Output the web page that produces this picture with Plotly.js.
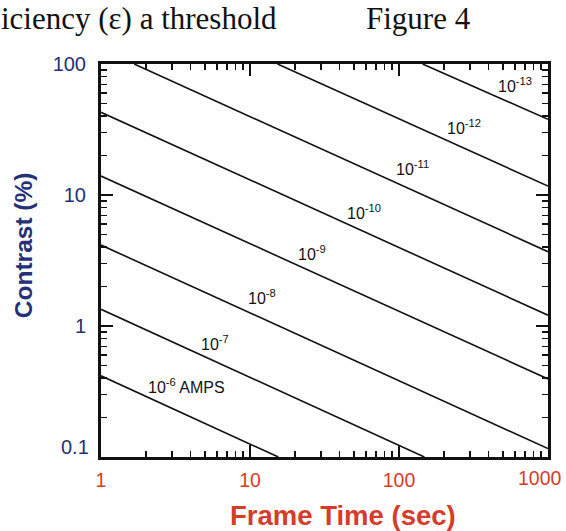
<!DOCTYPE html>
<html>
<head>
<meta charset="utf-8">
<script src="https://cdn.plot.ly/plotly-3.0.1.min.js"></script>
<style>
html,body{margin:0;padding:0;background:#fff;}
#chart{width:566px;height:531px;}
</style>
</head>
<body>
<div id="chart"></div>
<script>
// Threshold current lines (AMPS): straight lines on log-log axes
var currentLabels = ['10<sup>-6</sup> AMPS','10<sup>-7</sup>','10<sup>-8</sup>','10<sup>-9</sup>','10<sup>-10</sup>','10<sup>-11</sup>','10<sup>-12</sup>','10<sup>-13</sup>'];
var startTime     = [1, 1, 1, 1, 1, 1.67, 15.3, 144];
var startContrast = [0.417, 1.34, 4.15, 13.96, 42.8, 100, 100, 100];
var endTime       = [15.5, 148, 1000, 1000, 1000, 1000, 1000, 1000];
var endContrast   = [0.1, 0.1, 0.116, 0.394, 1.21, 3.69, 11.7, 37.8];

// label anchor points (frame time, contrast)
var labelTime     = [3.77, 5.85, 12.1, 26.0, 58.5, 122.7, 274, 596];
var labelContrast = [0.348, 0.738, 1.675, 3.59, 7.46, 16.0, 33.2, 69.2];

var xTicks = [1, 10, 100, 1000];
var xTickText = ['1', '10', '100', '1000'];
var yTicks = [0.1, 1, 10, 100];
var yTickText = ['0.1', '1', '10', '100'];

var minorX = [], minorY = [];
[1, 10, 100].forEach(function (d) { for (var k = 2; k <= 9; k++) minorX.push(d * k); });
[0.1, 1, 10].forEach(function (d) { for (var k = 2; k <= 9; k++) minorY.push(d * k); });

var navy = '#243078';
var red = '#d63c2a';
var sans = 'Liberation Sans, Arial, Helvetica, sans-serif';
var serif = 'Liberation Serif, Times New Roman, serif';

var traces = currentLabels.map(function (lab, i) {
  return {
    x: [startTime[i], endTime[i]],
    y: [startContrast[i], endContrast[i]],
    mode: 'lines',
    type: 'scatter',
    line: {color: '#111', width: 1.6},
    hoverinfo: 'skip',
    showlegend: false
  };
});

var annotations = currentLabels.map(function (lab, i) {
  return {
    x: Math.log10(labelTime[i]), y: Math.log10(labelContrast[i]),
    xref: 'x', yref: 'y', text: lab, showarrow: false,
    font: {family: sans, size: 16, color: '#111'},
    xanchor: 'center', yanchor: 'middle'
  };
});
// last x tick label, drawn inside the page like the reference
var lastX = xTicks.length - 1;
annotations.push({
  x: Math.log10(xTicks[lastX]), y: 0, xref: 'x', yref: 'paper',
  xshift: -8, yshift: -21,
  text: xTickText[lastX], showarrow: false,
  xanchor: 'center', yanchor: 'middle',
  font: {family: sans, size: 19.5, color: red}
});
// first y tick label, raised above the corner like the reference
annotations.push({
  x: 0, y: Math.log10(yTicks[0]), xref: 'paper', yref: 'y',
  xshift: -10, yshift: 10,
  text: yTickText[0], showarrow: false,
  xanchor: 'right', yanchor: 'middle',
  font: {family: sans, size: 20, color: navy}
});
annotations.push({
  x: 0, y: 1, xref: 'paper', yref: 'paper', xshift: -102, yshift: 65,
  text: 'iciency (ε) a threshold', showarrow: false,
  xanchor: 'left', yanchor: 'top',
  font: {family: serif, size: 31, color: '#111'}
});
annotations.push({
  x: 0, y: 1, xref: 'paper', yref: 'paper', xshift: 263, yshift: 65,
  text: 'Figure 4', showarrow: false,
  xanchor: 'left', yanchor: 'top',
  font: {family: serif, size: 31, color: '#111'}
});
annotations.push({
  x: 0.541, y: -0.150, xref: 'paper', yref: 'paper',
  text: '<b>Frame Time (sec)</b>', showarrow: false,
  xanchor: 'center', yanchor: 'middle',
  font: {family: sans, size: 27.5, color: red}
});
annotations.push({
  x: -0.1745, y: 0.539, xref: 'paper', yref: 'paper',
  text: '<b>Contrast (%)</b>', showarrow: false, textangle: -90,
  xanchor: 'center', yanchor: 'middle',
  font: {family: sans, size: 24.5, color: navy}
});

var layout = {
  width: 566, height: 531,
  margin: {l: 101, r: 18, t: 64, b: 74},
  paper_bgcolor: '#fff', plot_bgcolor: '#fff',
  showlegend: false,
  xaxis: {
    type: 'log', range: [0, 3],
    tickmode: 'array', tickvals: xTicks,
    ticktext: xTickText.map(function (t, i) { return i === lastX ? '' : t; }),
    ticks: 'inside', ticklen: 12, tickwidth: 1.6, tickcolor: '#111',
    showline: true, linewidth: 3, linecolor: '#111', mirror: 'allticks',
    showgrid: false, zeroline: false, ticklabelstandoff: 4,
    tickfont: {family: sans, size: 19.5, color: red},
    minor: {tickmode: 'array', tickvals: minorX, ticks: 'inside', ticklen: 6, tickwidth: 1.4, tickcolor: '#111', showgrid: false}
  },
  yaxis: {
    type: 'log', range: [-1, 2],
    tickmode: 'array', tickvals: yTicks,
    ticktext: yTickText.map(function (t, i) { return i === 0 ? '' : t; }),
    ticks: 'inside', ticklen: 12, tickwidth: 1.6, tickcolor: '#111',
    showline: true, linewidth: 3, linecolor: '#111', mirror: 'allticks',
    showgrid: false, zeroline: false, ticklabelstandoff: 8,
    tickfont: {family: sans, size: 20, color: navy},
    minor: {tickmode: 'array', tickvals: minorY, ticks: 'inside', ticklen: 6, tickwidth: 1.4, tickcolor: '#111', showgrid: false}
  },
  annotations: annotations
};

Plotly.newPlot('chart', traces, layout, {displayModeBar: false, staticPlot: true});
</script>
</body>
</html>
